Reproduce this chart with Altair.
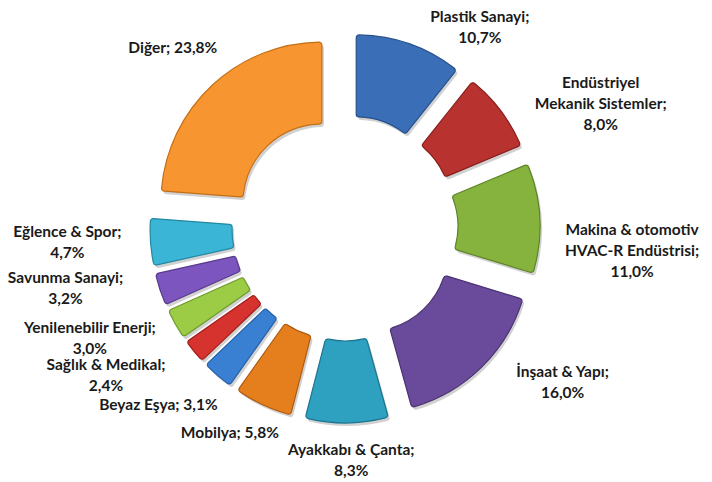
import math
import altair as alt
import pandas as pd

# ---- data ----
categories = [
    "Plastik Sanayi", "Endüstriyel Mekanik Sistemler", "Makina & otomotiv HVAC-R Endüstrisi",
    "İnşaat & Yapı", "Ayakkabı & Çanta", "Mobilya", "Beyaz Eşya", "Sağlık & Medikal",
    "Yenilenebilir Enerji", "Savunma Sanayi", "Eğlence & Spor", "Diğer",
]
values = [10.7, 8.0, 11.0, 16.0, 8.3, 5.8, 3.1, 2.4, 3.0, 3.2, 4.7, 23.8]
label_heads = [
    "Plastik Sanayi;\n", "Endüstriyel\nMekanik Sistemler;\n", "Makina & otomotiv\nHVAC-R Endüstrisi;\n",
    "İnşaat & Yapı;\n", "Ayakkabı & Çanta;\n", "Mobilya; ", "Beyaz Eşya; ", "Sağlık & Medikal;\n",
    "Yenilenebilir Enerji;\n", "Savunma Sanayi;\n", "Eğlence & Spor;\n", "Diğer; ",
]

# ---- styling / layout ----
fill_colors = ["#3A6FB8", "#B8322F", "#86B33E", "#6A4A9A", "#2FA1C0", "#E57F1E",
               "#3A80D2", "#D6332F", "#9CCB45", "#7D55BE", "#3BB5D6", "#F79530"]
stroke_colors = ["#24508C", "#8A1F1C", "#5E8426", "#4A3170", "#1C7590", "#B05A0E",
                 "#2560A8", "#A01F1C", "#6E9A2A", "#573A8C", "#2388A4", "#C46F16"]
# label placement: angular nudge (deg) from slice middle, and distance from centre (px)
label_nudge = [14.6, 11.3, 7.5, -10.3, -1.0, 4.5, 5.7, 7.5, 6.1, 6.1, 1.1, -0.9]
label_dist = [242, 284, 288, 267, 233, 235, 257, 281, 278, 286, 278, 249]

CX, CY = 337, 220          # pie centre inside the view
R_OUT, R_IN = 161, 79      # ring radii
EXPLODE = 34               # explosion distance
LINE_H = 21

df = pd.DataFrame({
    "category": categories,
    "value": values,
    "order": list(range(len(values))),
    "label": [h + f"{v:.1f}".replace(".", ",") + "%" for h, v in zip(label_heads, values)],
    "nudge": label_nudge,
    "ldist": label_dist,
})

base = alt.Chart(df).transform_joinaggregate(
    total="sum(value)"
).transform_window(
    cum="sum(value)", sort=[alt.SortField("order")], frame=[None, 0]
).transform_calculate(
    a0="2*PI*(datum.cum - datum.value)/datum.total",
    a1="2*PI*datum.cum/datum.total",
    nlines="length(split(datum.label, '\\n'))",
).transform_calculate(
    mid="(datum.a0 + datum.a1)/2",
).transform_calculate(
    cx=f"{CX} + {EXPLODE}*sin(datum.mid)",
    cy=f"{CY} - {EXPLODE}*cos(datum.mid)",
    la="datum.mid + datum.nudge*PI/180",
).transform_calculate(
    lx=f"{CX} + datum.ldist*sin(datum.la)",
    ly=f"{CY} - datum.ldist*cos(datum.la) - (datum.nlines - 1)*{LINE_H}/2",
    sx="datum.cx + 2",
    sy="datum.cy + 3",
)

shadow = base.mark_arc(radius=R_OUT, radius2=R_IN, cornerRadius=3,
                       color="#000000", opacity=0.18).encode(
    theta=alt.Theta("a0:Q", scale=None),
    theta2="a1:Q",
    x=alt.X("sx:Q", scale=None),
    y=alt.Y("sy:Q", scale=None),
)

arcs = base.mark_arc(radius=R_OUT, radius2=R_IN, cornerRadius=3, strokeWidth=1.2).encode(
    theta=alt.Theta("a0:Q", scale=None),
    theta2="a1:Q",
    x=alt.X("cx:Q", scale=None),
    y=alt.Y("cy:Q", scale=None),
    color=alt.Color("category:N", scale=alt.Scale(domain=categories, range=fill_colors), legend=None),
    stroke=alt.Stroke("category:N", scale=alt.Scale(domain=categories, range=stroke_colors), legend=None),
)

labels = base.mark_text(
    font="Lato", fontSize=15.5, fontWeight="bold", color="#1A1A1A",
    align="center", baseline="middle", lineBreak="\n", lineHeight=LINE_H,
).encode(
    x=alt.X("lx:Q", scale=None),
    y=alt.Y("ly:Q", scale=None),
    text="label:N",
)

chart = alt.layer(shadow, arcs, labels).properties(
    width=696, height=472, padding=0, autosize="none", background="white"
).configure_view(stroke=None)

chart.save("out.html", embed_options={"renderer": "svg", "actions": False})
